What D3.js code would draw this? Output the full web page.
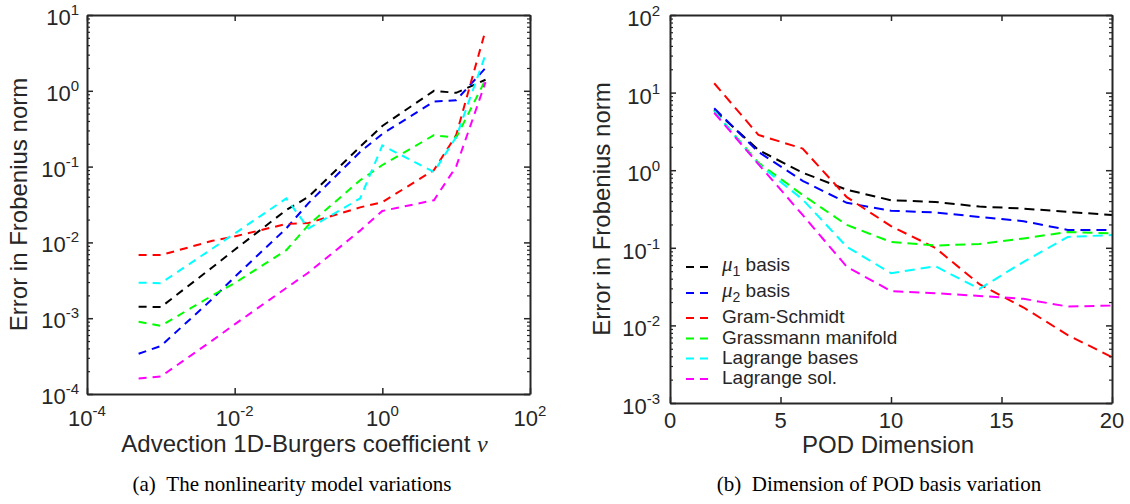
<!DOCTYPE html>
<html>
<head>
<meta charset="utf-8">
<script src="https://cdn.jsdelivr.net/npm/d3@7"></script>
<style>
body { margin: 0; background: #fff; }
text { font-family: "Liberation Sans", Arial, sans-serif; fill: #262626; }
</style>
</head>
<body>
<div id="chart"></div>
<script>
// (a) error vs advection coefficient nu
var nuValues   = [5e-4, 1e-3, 5e-3, 1e-2, 5e-2, 0.1, 0.5, 1, 5, 10, 25];
var nuMu1      = [1.42e-3, 1.4e-3, 4.7e-3, 8e-3, 0.0267, 0.040, 0.183, 0.344, 1.0, 0.94, 1.4];
var nuMu2      = [3.4e-4, 4.3e-4, 1.8e-3, 3.5e-3, 0.0153, 0.033, 0.156, 0.27, 0.72, 0.75, 2.0];
var nuGram     = [6.8e-3, 6.8e-3, 1.05e-2, 1.2e-2, 0.0175, 0.018, 0.029, 0.034, 0.09, 0.26, 6.3];
var nuGrass    = [9e-4, 7.9e-4, 2.0e-3, 2.9e-3, 7.9e-3, 0.017, 0.066, 0.105, 0.26, 0.24, 1.4];
var nuLagBases = [2.94e-3, 2.9e-3, 8.3e-3, 0.0131, 0.038, 0.0153, 0.038, 0.19, 0.085, 0.245, 3.0];
var nuLagSol   = [1.6e-4, 1.7e-4, 5.1e-4, 8.3e-4, 2.5e-3, 4.0e-3, 0.0143, 0.026, 0.036, 0.1, 1.3];

// (b) error vs POD dimension
var podDim      = [2, 4, 6, 8, 10, 12, 14, 16, 18, 20];
var podMu1      = [6.0, 1.82, 0.93, 0.56, 0.41, 0.39, 0.34, 0.32, 0.29, 0.265];
var podMu2      = [6.3, 1.72, 0.73, 0.38, 0.30, 0.285, 0.25, 0.22, 0.17, 0.17];
var podGram     = [13.2, 2.85, 1.9, 0.45, 0.19, 0.1, 0.034, 0.017, 0.0075, 0.0039];
var podGrass    = [5.8, 1.25, 0.48, 0.197, 0.119, 0.107, 0.112, 0.132, 0.16, 0.153];
var podLagBases = [5.8, 1.2, 0.42, 0.103, 0.047, 0.058, 0.0295, 0.066, 0.138, 0.146];
var podLagSol   = [5.5, 1.2, 0.265, 0.057, 0.0277, 0.026, 0.024, 0.022, 0.0175, 0.018];

var seriesNames  = ["basis", "basis", "Gram-Schmidt", "Grassmann manifold", "Lagrange bases", "Lagrange sol."];
var seriesColors = ["#000000", "#0000ff", "#ff0000", "#00ff00", "#00ffff", "#ff00ff"];

var nuXTicks  = [-4, -2, 0, 2];          // exponents
var nuYTicks  = [-4, -3, -2, -1, 0, 1];
var podXTicks = [0, 5, 10, 15, 20];
var podYTicks = [-3, -2, -1, 0, 1, 2];

var svg = d3.select("#chart").append("svg")
    .attr("width", 1130)
    .attr("height", 504);

var axisColor = "#262626";
var serif = '"Liberation Serif", "Times New Roman", serif';

function minorTicks(lo, hi) {
    var out = [];
    for (var e = lo; e < hi; e++) {
        for (var m = 2; m <= 9; m++) out.push(m * Math.pow(10, e));
    }
    return out;
}

// draw the frame with inward ticks on all 4 sides
function drawFrame(g, x, y, w, h, xTickVals, yTickVals, yMinor) {
    var sides = [
        { ax: d3.axisBottom(x), tr: "translate(0," + h + ")", vals: xTickVals },
        { ax: d3.axisTop(x), tr: "translate(0,0)", vals: xTickVals },
        { ax: d3.axisLeft(y), tr: "translate(0,0)", vals: yTickVals },
        { ax: d3.axisRight(y), tr: "translate(" + w + ",0)", vals: yTickVals }
    ];
    sides.forEach(function(s, i) {
        var a = g.append("g").attr("transform", s.tr)
            .call(s.ax.tickValues(s.vals).tickSizeInner(-6).tickSizeOuter(0).tickFormat(""));
        a.select(".domain").attr("stroke", axisColor).attr("stroke-width", 2);
        a.selectAll(".tick line").attr("stroke", axisColor).attr("stroke-width", 1.5);
        if (i >= 2 && yMinor) {
            var ax2 = (i == 2 ? d3.axisLeft(y) : d3.axisRight(y));
            var m = g.append("g").attr("transform", s.tr)
                .call(ax2.tickValues(yMinor).tickSizeInner(-3).tickSizeOuter(0).tickFormat(""));
            m.select(".domain").remove();
            m.selectAll(".tick line").attr("stroke", axisColor).attr("stroke-width", 1.2);
        }
    });
}

function powText(sel, exp) {
    sel.append("tspan").text("10");
    sel.append("tspan").attr("dy", -10).style("font-size", "15px").text(exp);
}

function drawLines(g, x, y, xs, ysList, dash) {
    var line = d3.line()
        .x(function(d) { return x(d[0]); })
        .y(function(d) { return y(d[1]); });
    ysList.forEach(function(ys, i) {
        g.append("path")
            .datum(d3.zip(xs, ys))
            .attr("d", line)
            .attr("fill", "none")
            .attr("stroke", seriesColors[i])
            .attr("stroke-width", 2)
            .attr("stroke-dasharray", dash);
    });
}

// ---------- panel (a) ----------
var aL = 87, aT = 15, aW = 443, aH = 379;
var ga = svg.append("g").attr("transform", "translate(" + aL + "," + aT + ")");
var xa = d3.scaleLog().domain([1e-4, 1e2]).range([0, aW]);
var ya = d3.scaleLog().domain([1e-4, 1e1]).range([aH, 0]);

drawLines(ga, xa, ya, nuValues, [nuMu1, nuMu2, nuGram, nuGrass, nuLagBases, nuLagSol], "8,6");
drawFrame(ga, xa, ya, aW, aH,
    nuXTicks.map(function(e) { return Math.pow(10, e); }),
    nuYTicks.map(function(e) { return Math.pow(10, e); }),
    minorTicks(-4, 1));

nuYTicks.forEach(function(e) {
    var t = ga.append("text")
        .attr("x", -8).attr("y", ya(Math.pow(10, e)) + 10)
        .attr("text-anchor", "end").attr("font-size", 22);
    powText(t, e);
});
nuXTicks.forEach(function(e) {
    var t = ga.append("text")
        .attr("x", xa(Math.pow(10, e))).attr("y", aH + 32)
        .attr("text-anchor", "middle").attr("font-size", 22);
    powText(t, e);
});

var xla = ga.append("text")
    .attr("x", aW / 2 - 4).attr("y", aH + 58)
    .attr("text-anchor", "middle").attr("font-size", 24)
    .text("Advection 1D-Burgers coefficient ");
xla.append("tspan").style("font-family", serif).style("font-style", "italic").text("\u03bd");

svg.append("text")
    .attr("transform", "translate(27," + (aT + aH / 2) + ") rotate(-90)")
    .attr("text-anchor", "middle").attr("font-size", 24)
    .text("Error in Frobenius norm");

// ---------- panel (b) ----------
var bL = 670, bT = 15, bW = 442, bH = 388;
var gb = svg.append("g").attr("transform", "translate(" + bL + "," + bT + ")");
var xb = d3.scaleLinear().domain([0, 20]).range([0, bW]);
var yb = d3.scaleLog().domain([1e-3, 1e2]).range([bH, 0]);

drawLines(gb, xb, yb, podDim, [podMu1, podMu2, podGram, podGrass, podLagBases, podLagSol], "10,6");
drawFrame(gb, xb, yb, bW, bH, podXTicks,
    podYTicks.map(function(e) { return Math.pow(10, e); }),
    minorTicks(-3, 2));

podYTicks.forEach(function(e) {
    var t = gb.append("text")
        .attr("x", -10).attr("y", yb(Math.pow(10, e)) + 11)
        .attr("text-anchor", "end").attr("font-size", 22);
    powText(t, e);
});
podXTicks.forEach(function(v) {
    gb.append("text")
        .attr("x", xb(v)).attr("y", bH + 25)
        .attr("text-anchor", "middle").attr("font-size", 22)
        .text(v);
});

gb.append("text")
    .attr("x", bW / 2 - 3).attr("y", bH + 50)
    .attr("text-anchor", "middle").attr("font-size", 24)
    .text("POD Dimension");

svg.append("text")
    .attr("transform", "translate(610," + (bT + bH / 2) + ") rotate(-90)")
    .attr("text-anchor", "middle").attr("font-size", 24)
    .text("Error in Frobenius norm");

// legend (no box)
var legendRowY = [267, 293, 318, 338.5, 358.5, 379];
var legendTextDy = [3.5, 4, 5, 5, 5, 5];
var leg = svg.append("g");
seriesNames.forEach(function(name, i) {
    var ly = legendRowY[i];
    leg.append("line")
        .attr("x1", 686).attr("x2", 713).attr("y1", ly).attr("y2", ly)
        .attr("stroke", seriesColors[i]).attr("stroke-width", 2)
        .attr("stroke-dasharray", "8,6");
    var t = leg.append("text")
        .attr("x", 722).attr("y", ly + legendTextDy[i])
        .attr("font-size", 19);
    if (i < 2) {
        t.append("tspan").style("font-family", serif).style("font-style", "italic")
            .style("font-size", "21px").text("\u03bc");
        t.append("tspan").attr("dy", 5).style("font-size", "14px").text(i + 1);
        t.append("tspan").attr("dy", -5).text(" " + name);
    } else {
        t.text(name);
    }
});

// captions
svg.append("text")
    .attr("x", 292).attr("y", 491)
    .attr("text-anchor", "middle")
    .style("font-family", serif).style("font-size", "21px")
    .style("fill", "#000")
    .text("(a)\u00a0\u00a0The nonlinearity model variations");

svg.append("text")
    .attr("x", 879).attr("y", 491)
    .attr("text-anchor", "middle")
    .style("font-family", serif).style("font-size", "21px")
    .style("fill", "#000")
    .text("(b)\u00a0\u00a0Dimension of POD basis variation");
</script>
</body>
</html>
